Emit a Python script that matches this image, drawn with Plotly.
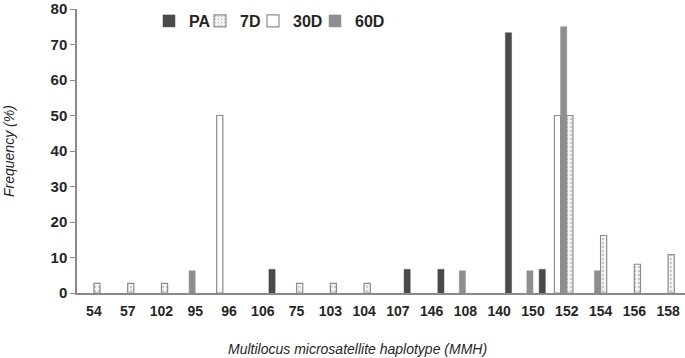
import plotly.graph_objects as go

categories = ["54", "57", "102", "95", "96", "106", "75", "103", "104",
              "107", "146", "108", "140", "150", "152", "154", "156", "158"]

pa_values  = [None, None, None, None, None, 6.67, None, None, None,
              6.67, 6.67, None, 73.3, 6.67, None, None, None, None]
d7_values  = [2.7, 2.7, 2.7, None, None, None, 2.7, 2.7, 2.7,
              None, None, None, None, None, 50, 16.2, 8.1, 10.8]
d30_values = [None, None, None, None, 50, None, None, None, None,
              None, None, None, None, None, 50, None, None, None]
d60_values = [None, None, None, 6.25, None, None, None, None, None,
              None, None, 6.25, None, 6.25, 75, 6.25, None, None]

FONT = "Arial, Liberation Sans, sans-serif"
AXIS = "#8a8a8a"
TXT = "#262626"

fig = go.Figure()
# group order (left to right within a category): 30D, 60D, 7D, PA
fig.add_trace(go.Bar(name="30D", x=categories, y=d30_values, legendrank=3, legendwidth=17,
                     marker=dict(color="white", line=dict(color="#8c8c8c", width=1.2))))
fig.add_trace(go.Bar(name="60D", x=categories, y=d60_values, legendrank=4, legendwidth=30,
                     marker=dict(color="#8e8e90", line=dict(color="#8e8e90", width=0.5))))
fig.add_trace(go.Bar(name="7D", x=categories, y=d7_values, legendrank=2, legendwidth=8,
                     marker=dict(color="white", line=dict(color="#8c8c8c", width=1.2),
                                 pattern=dict(shape=".", fgcolor="#a0a0a0", bgcolor="#f6f6f6",
                                              size=4, solidity=0.3))))
fig.add_trace(go.Bar(name="PA", x=categories, y=pa_values, legendrank=1, legendwidth=6,
                     marker=dict(color="#4a4a4c", line=dict(color="#4a4a4c", width=0.5))))

fig.update_layout(
    width=685, height=358,
    margin=dict(l=77, r=0, t=7, b=65),
    paper_bgcolor="white", plot_bgcolor="white",
    barmode="group", bargap=0.27, bargroupgap=0,
    font=dict(family=FONT, color=TXT),
    showlegend=True,
    legend=dict(orientation="h", x=(149 - 77) / 608, y=1.0175, xanchor="left", yanchor="top",
                font=dict(size=16, family=FONT, color=TXT, weight="bold"),
                itemwidth=30, bgcolor="rgba(0,0,0,0)", traceorder="normal"),
    xaxis=dict(type="category", showline=True, linecolor=AXIS, linewidth=1.5,
               ticks="", showgrid=False, zeroline=False,
               tickfont=dict(size=14, family=FONT, color=TXT, weight="bold"),
               ticklabelstandoff=4),
    yaxis=dict(range=[0, 80], dtick=10, showline=True, linecolor=AXIS, linewidth=1.5,
               ticks="outside", ticklen=5, tickcolor=AXIS, tickwidth=1.2,
               showgrid=False, zeroline=False, ticklabeloverflow="allow",
               tickfont=dict(size=15, family=FONT, color=TXT, weight="bold")),
    annotations=[
        dict(text="<i>Multilocus microsatellite haplotype (MMH)</i>", xref="paper", yref="paper",
             x=(357 - 77) / 608, y=-(349 - 293) / 286, xanchor="center", yanchor="middle",
             showarrow=False, font=dict(size=14, family=FONT, color=TXT)),
        dict(text="<i>Frequency (%)</i>", xref="paper", yref="paper",
             x=-(77 - 9) / 608, y=0.5, xanchor="center", yanchor="middle", textangle=-90,
             showarrow=False, font=dict(size=14, family=FONT, color=TXT)),
    ],
)

fig.write_html("out.html", config={"displayModeBar": False},
               post_script="document.body.style.margin='0';")
